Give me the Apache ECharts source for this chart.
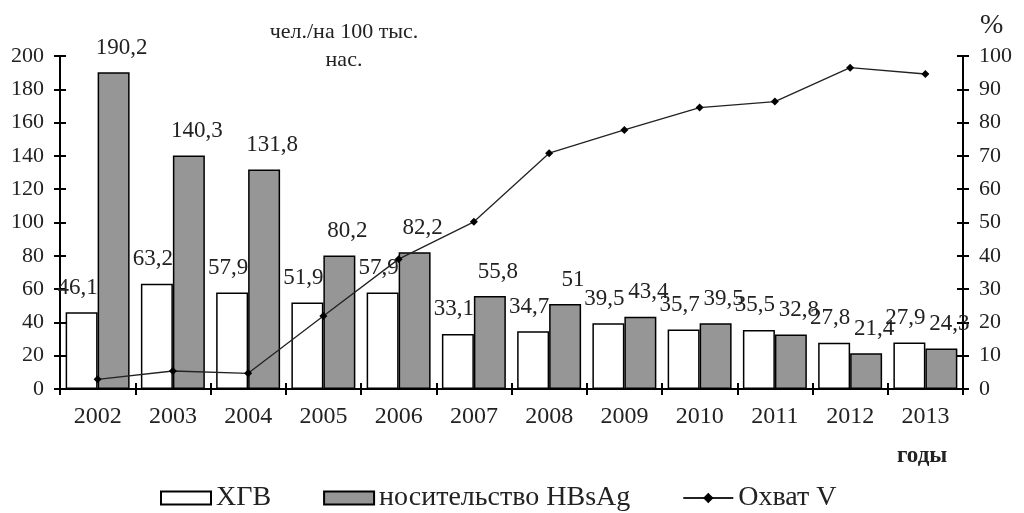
<!DOCTYPE html>
<html><head><meta charset="utf-8">
<script src="https://cdn.jsdelivr.net/npm/echarts@6/dist/echarts.min.js"></script>
<style>html,body{margin:0;padding:0;background:#fff}#c{width:1024px;height:513px}</style>
</head><body><div id="c"></div>
<script>
const years = ['2002','2003','2004','2005','2006','2007','2008','2009','2010','2011','2012','2013'];
const hgv = [46.1,63.2,57.9,51.9,57.9,33.1,34.7,39.5,35.7,35.5,27.8,27.9];
const hbsag = [190.2,140.3,131.8,80.2,82.2,55.8,51,43.4,39.5,32.8,21.4,24.3];
const coverage = [2.9,5.4,4.7,21.9,39,50.2,70.8,77.8,84.5,86.3,96.5,94.6];
const seriesNames = ['ХГВ','носительство HBsAg','Охват V'];

const FONT = 'Liberation Serif';
const fmt = v => String(v.value !== undefined ? v.value : v).replace('.', ',');
const chart = echarts.init(document.getElementById('c'));
const axisLine = {show:true, lineStyle:{color:'#000', width:2}};
const tickOut = {show:true, inside:false, length:6, lineStyle:{color:'#000', width:2}};
const tickIn = {show:true, inside:true, length:6, lineStyle:{color:'#000', width:2}};
const legendText = {fontFamily:FONT, fontSize:28, color:'#222', fontWeight:'normal'};
chart.setOption({
  backgroundColor:'#fff',
  animation:false,
  textStyle:{fontFamily:FONT},
  grid:{left:60, right:61, top:56, bottom:124, containLabel:false},
  title:[
    {text:'чел./на 100 тыс.\nнас.', left:344, top:18, textAlign:'center', padding:0,
     textStyle:{fontFamily:FONT, fontSize:22, fontWeight:'normal', color:'#222', lineHeight:28}},
    {text:'%', left:980, top:12, padding:0,
     textStyle:{fontFamily:FONT, fontSize:28, fontWeight:'normal', color:'#222'}},
    {text:'годы', left:897, top:445, padding:0,
     textStyle:{fontFamily:FONT, fontSize:23, fontWeight:'bold', color:'#222'}}
  ],
  legend:{
    bottom:-4, left:155, itemWidth:50, itemHeight:13, itemGap:52,
    data:[{name:seriesNames[0], icon:'rect'},{name:seriesNames[1], icon:'rect'},{name:seriesNames[2]}],
    textStyle:legendText
  },
  xAxis:[
    {type:'category', data:years, position:'bottom', axisLine:axisLine, axisTick:tickOut,
     axisLabel:{fontFamily:FONT, fontSize:24, color:'#222', margin:16}, splitLine:{show:false}},
    {type:'category', data:years, position:'bottom', axisLine:{show:false}, axisTick:tickIn,
     axisLabel:{show:false}, splitLine:{show:false}}
  ],
  yAxis:[
    {type:'value', min:0, max:200, interval:20, position:'left', axisLine:axisLine, axisTick:tickOut,
     axisLabel:{fontFamily:FONT, fontSize:22, color:'#222', margin:16}, splitLine:{show:false}},
    {type:'value', min:0, max:100, interval:10, position:'right', axisLine:axisLine, axisTick:tickOut,
     axisLabel:{fontFamily:FONT, fontSize:22, color:'#222', margin:16}, splitLine:{show:false}},
    {type:'value', min:0, max:200, interval:20, position:'left', axisLine:{show:false}, axisTick:tickIn,
     axisLabel:{show:false}, splitLine:{show:false}},
    {type:'value', min:0, max:100, interval:10, position:'right', axisLine:{show:false}, axisTick:tickIn,
     axisLabel:{show:false}, splitLine:{show:false}}
  ],
  series:[
    {name:seriesNames[0], type:'bar', data:hgv, yAxisIndex:0, barGap:'0%', barCategoryGap:'15%',
     itemStyle:{color:'#fff', borderColor:'#000', borderWidth:1.5},
     label:{show:true, position:'top', distance:13, formatter:fmt, fontFamily:FONT, fontSize:23, color:'#222', offset:[-4,0]}},
    {name:seriesNames[1], type:'bar', data:hbsag, yAxisIndex:0, barGap:'0%', barCategoryGap:'15%',
     itemStyle:{color:'#969696', borderColor:'#000', borderWidth:1.5},
     label:{show:true, position:'top', distance:13, formatter:fmt, fontFamily:FONT, fontSize:23, color:'#222', offset:[8,0]}},
    {name:seriesNames[2], type:'line', data:coverage, yAxisIndex:1, symbol:'diamond', symbolSize:8,
     lineStyle:{color:'#222', width:1.3}, itemStyle:{color:'#000'}, z:5}
  ]
});
</script></body></html>
